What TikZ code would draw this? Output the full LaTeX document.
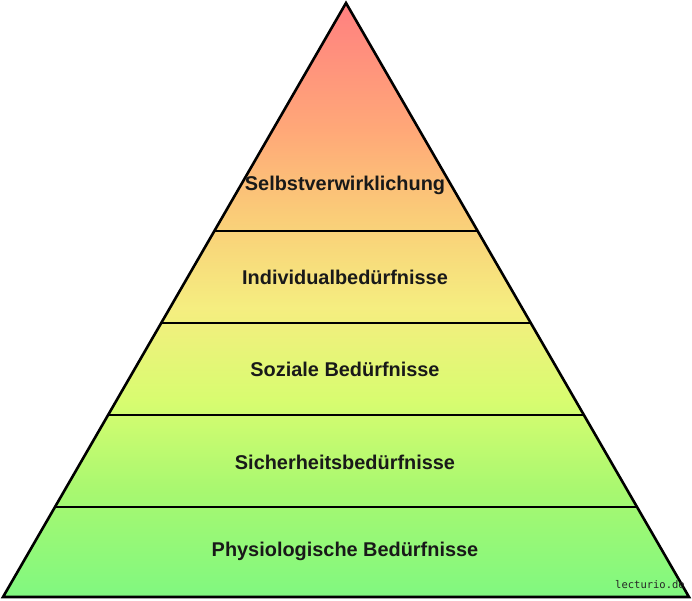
\documentclass[tikz,border=0pt]{standalone}
\usepackage{fontspec}
\setmainfont{Liberation Sans}
\newfontfamily\wmfont{DejaVu Sans Mono}
\definecolor{ctop}{HTML}{FF8080}
\definecolor{cA}{HTML}{FFA878}
\definecolor{cB}{HTML}{FACC78}
\definecolor{cC}{HTML}{F5EE80}
\definecolor{cD}{HTML}{D8FC70}
\definecolor{cE}{HTML}{A8F870}
\definecolor{cbot}{HTML}{80F880}
\pgfdeclareverticalshading{pyrshade}{100bp}{color(0bp)=(cbot); color(25bp)=(cbot); color(34bp)=(cE); color(41.6bp)=(cD); color(49.3bp)=(cC); color(57.2bp)=(cB); color(64.3bp)=(cA); color(75bp)=(ctop); color(100bp)=(ctop)}
\tikzset{
  edge/.style={line width=2.6pt, black},
  level/.style={font=\bfseries\fontsize{19.9}{23}\selectfont, text=black!90, inner sep=0pt, anchor=center},
  watermark/.style={font=\wmfont\fontsize{10.5}{12}\selectfont, text=black!85, inner sep=0pt}
}
\begin{document}
\begin{tikzpicture}[x=1pt,y=-1pt]
\useasboundingbox (0,0) rectangle (692,600);
\coordinate (apex) at (346,3);
\coordinate (bl) at (3,597);
\coordinate (br) at (689,597);
\shade[shading=pyrshade] (apex) -- (br) -- (bl) -- cycle;
% level dividers
\foreach \y/\n in {231/a,323/b,415/c,507/d}{
  \coordinate (L\n) at ({346-(\y-3)*0.577441},\y);
  \coordinate (R\n) at ({346+(\y-3)*0.577441},\y);
  \draw[edge] (L\n) -- (R\n);
}
\draw[edge, line join=miter] (apex) -- (br) -- (bl) -- cycle;
\node[level] (t1) at (345,185) {Selbstverwirklichung};
\node[level] (t2) at (345,277) {Individualbedürfnisse};
\node[level] (t3) at (345,369) {Soziale Bedürfnisse};
\node[level] (t4) at (345,462) {Sicherheitsbedürfnisse};
\node[level] (t5) at (345,551) {Physiologische Bedürfnisse};
\node[watermark] (wm) at (650,585) {lecturio.de};
\end{tikzpicture}
\end{document}
